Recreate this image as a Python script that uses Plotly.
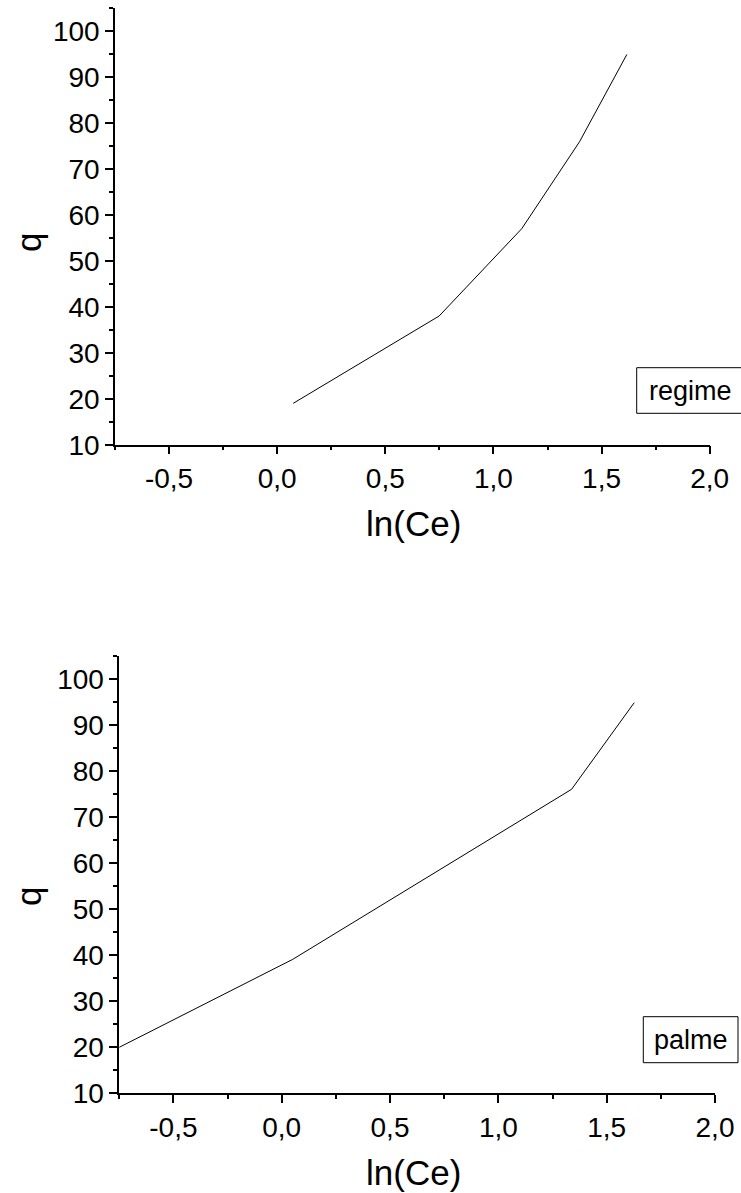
import plotly.graph_objects as go
from plotly.subplots import make_subplots

# Isotherm data: q versus ln(Ce) for two adsorbents
regime_ln_ce = [0.074, 0.749, 1.131, 1.398, 1.617]
regime_q = [19.0, 38.0, 57.0, 75.9, 94.9]

palme_ln_ce = [-0.75, 0.051, 1.338, 1.627]
palme_q = [20.0, 39.1, 76.0, 94.8]

series = [("regime", regime_ln_ce, regime_q), ("palme", palme_ln_ce, palme_q)]

x_range = [-0.75, 2.0]
y_range = [10, 105]
x_tickvals = [-0.5, 0.0, 0.5, 1.0, 1.5, 2.0]
x_ticktext = ["-0,5", "0,0", "0,5", "1,0", "1,5", "2,0"]
y_tickvals = [10, 20, 30, 40, 50, 60, 70, 80, 90, 100]
y_ticktext = ["10", "20", "30", "40", "50", "60", "70", "80", "90", "100"]
x_title = "ln(Ce)"
y_title = "q"

W, H = 741, 1193
FONT = "Liberation Sans, Arial, sans-serif"

fig = make_subplots(rows=2, cols=1)

for i, (name, xs, ys) in enumerate(series, start=1):
    fig.add_trace(
        go.Scatter(x=xs, y=ys, mode="lines", name=name,
                   line=dict(color="black", width=1), showlegend=False),
        row=i, col=1,
    )

# panel geometry in pixels: (left, right, top, bottom)
panels = [(115, 709.7, 8, 444.7), (119.2, 715, 655.7, 1093.4)]
# label boxes in pixels: (left, right, top, bottom, text left, closed on right?)
label_boxes = [(636.7, W, 367.7, 413.3, 648.3, False),
               (643.3, 738, 1016.7, 1062.7, 653.3, True)]
q_pos = [(28, 243), (28, 897)]

axis_common = dict(
    showline=True, linecolor="black", linewidth=1.5,
    ticks="outside", ticklen=8, tickwidth=1.5, tickcolor="black",
    showgrid=False, zeroline=False, mirror=False, automargin=False,
    tickfont=dict(family=FONT, size=28, color="black"),
)

annotations = []
shapes = []
for i, (l, r, t, b) in enumerate(panels, start=1):
    xa = "xaxis" if i == 1 else f"xaxis{i}"
    ya = "yaxis" if i == 1 else f"yaxis{i}"
    fig.update_layout({
        xa: dict(domain=[l / W, r / W], range=x_range,
                 tickmode="array", tickvals=x_tickvals, ticktext=x_ticktext,
                 minor=dict(ticks="outside", ticklen=4, tickwidth=1.5,
                            tickcolor="black", dtick=0.25, tick0=0, showgrid=False),
                 **axis_common),
        ya: dict(domain=[1 - b / H, 1 - t / H], range=y_range,
                 tickmode="array", tickvals=y_tickvals, ticktext=y_ticktext,
                 minor=dict(ticks="outside", ticklen=4, tickwidth=1.5,
                            tickcolor="black", dtick=5, tick0=0, showgrid=False),
                 **axis_common),
    })
    # x-axis title
    annotations.append(dict(
        text=x_title, xref="paper", yref="paper",
        x=413.5 / W, y=1 - (b + 79) / H,
        xanchor="center", yanchor="middle", showarrow=False,
        font=dict(family=FONT, size=35, color="black"),
    ))
    # y-axis title
    qx, qy = q_pos[i - 1]
    annotations.append(dict(
        text=y_title, xref="paper", yref="paper",
        x=qx / W, y=1 - qy / H, textangle=-90,
        xanchor="center", yanchor="middle", showarrow=False,
        font=dict(family=FONT, size=35, color="black"),
    ))
    # boxed series label
    bl, br, bt, bb, tl, closed = label_boxes[i - 1]
    x0, x1 = bl / W, br / W
    y0, y1 = 1 - bb / H, 1 - bt / H
    path = f"M {x1} {y1} L {x0} {y1} L {x0} {y0} L {x1} {y0}"
    if closed:
        path += " Z"
    shapes.append(dict(
        type="path", xref="paper", yref="paper", path=path,
        line=dict(color="black", width=1), layer="above",
    ))
    annotations.append(dict(
        text=series[i - 1][0], xref="paper", yref="paper",
        x=tl / W, y=1 - (bt + bb) / 2 / H, xanchor="left", yanchor="middle",
        showarrow=False, borderpad=0,
        font=dict(family=FONT, size=27, color="black"),
    ))

fig.update_layout(
    width=W, height=H,
    margin=dict(l=0, r=0, t=0, b=0),
    paper_bgcolor="white", plot_bgcolor="white",
    annotations=annotations,
    shapes=shapes,
    font=dict(family=FONT, color="black"),
)

fig.write_html("out.html", include_plotlyjs=True, config={"displayModeBar": False})
